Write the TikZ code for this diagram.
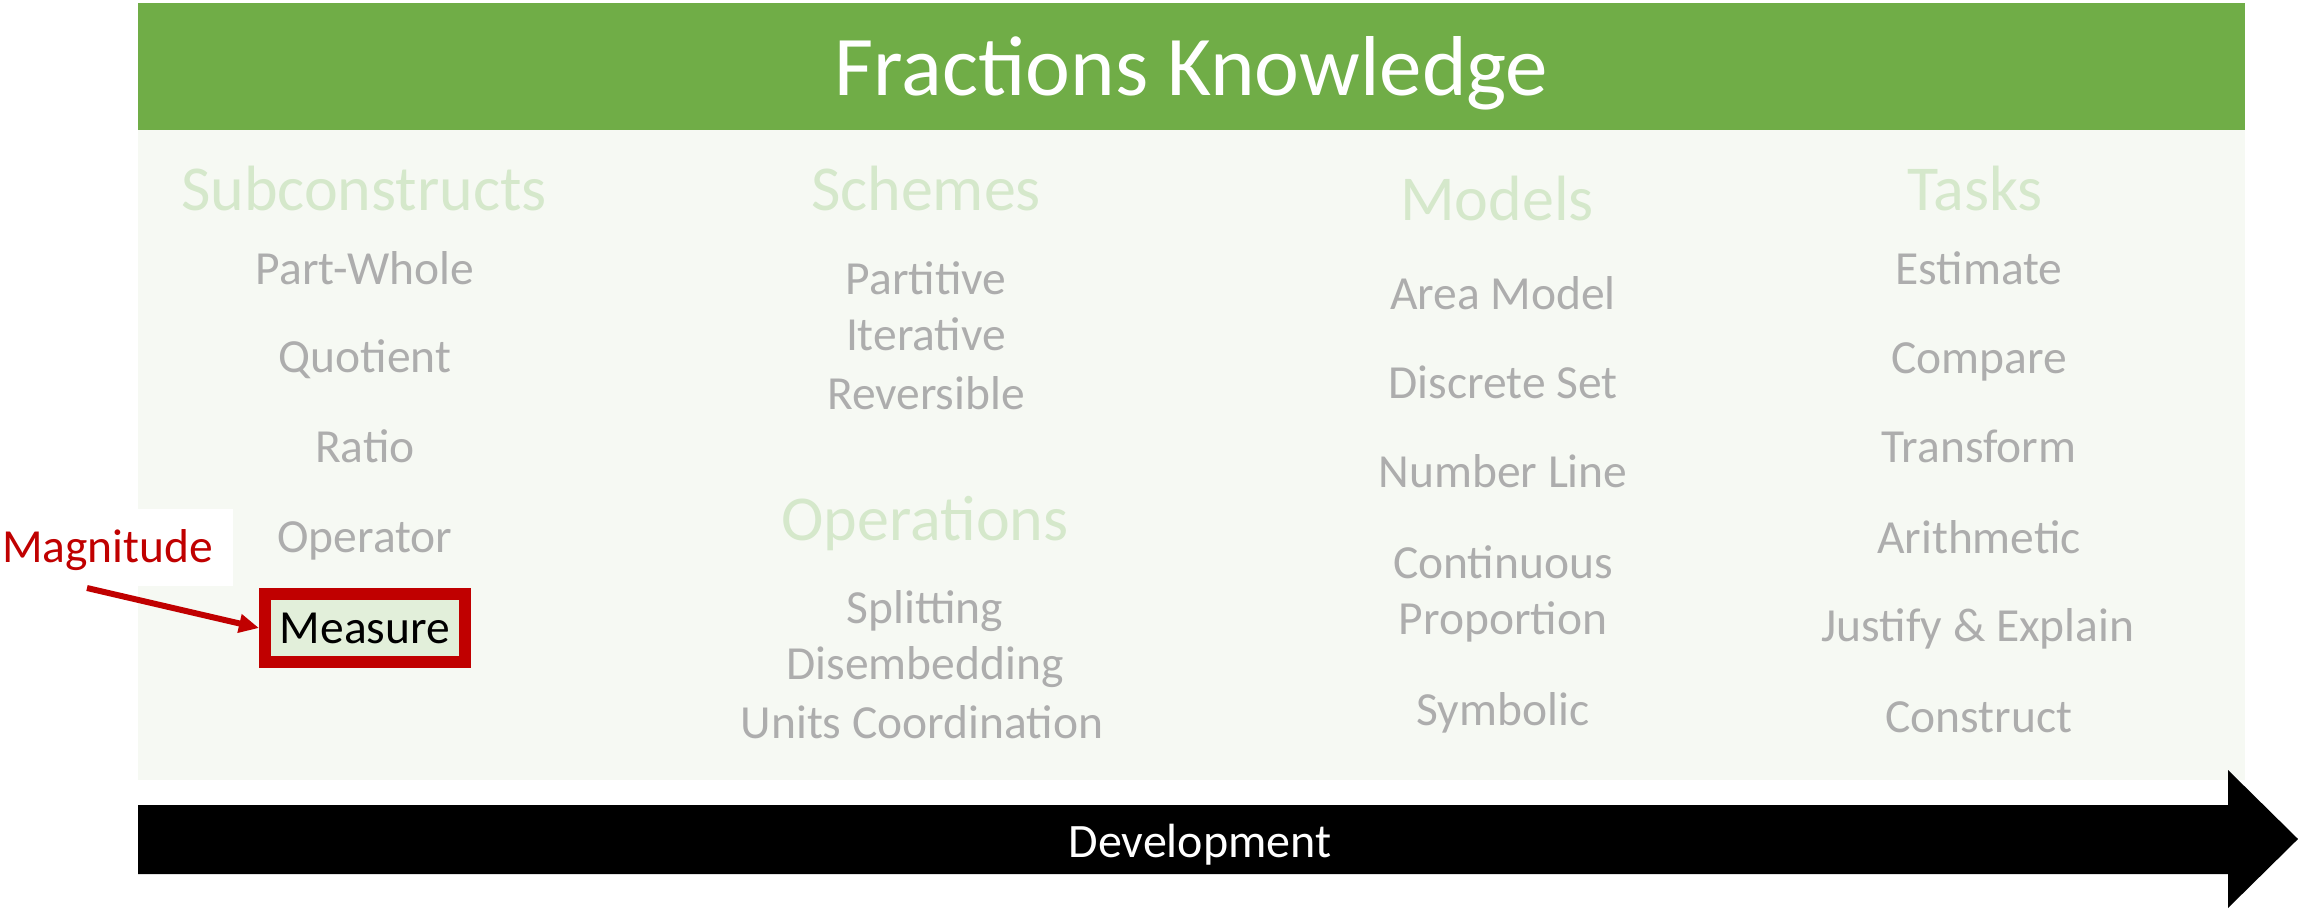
\documentclass[tikz,border=0pt]{standalone}
\usepackage{fontspec}
\setmainfont{Carlito}
\usetikzlibrary{arrows.meta}

\definecolor{bannergreen}{HTML}{70AD47}
\definecolor{panelfill}{HTML}{F6F9F3}
\definecolor{hdrgreen}{HTML}{D5E8CB}
\definecolor{itemgray}{HTML}{ADADAD}
\definecolor{darkred}{HTML}{C00000}
\definecolor{measfill}{HTML}{E2EFDA}

\tikzset{
  itemtext/.style={text=itemgray, font=\fontsize{47.5}{57}\selectfont, anchor=base, inner sep=0pt},
  hdrtext/.style={text=hdrgreen, font=\fontsize{64}{77}\selectfont, anchor=base, inner sep=0pt},
  measbox/.style={draw=darkred, line width=12pt, fill=measfill, text=black,
    font=\fontsize{47.5}{57}\selectfont, minimum width=200pt, minimum height=68pt, inner sep=0pt},
  magbox/.style={fill=white, text=darkred, font=\fontsize{47.5}{57}\selectfont,
    text width=229pt, align=left, inner xsep=2pt, inner ysep=0pt,
    minimum height=77pt, anchor=north west, text depth=4pt},
  magarrow/.style={draw=darkred, line width=6pt, -{Triangle[length=20pt,width=18pt]}},
}

\begin{document}
\begin{tikzpicture}[x=1pt,y=-1pt]
\useasboundingbox (0,0) rectangle (2298,908);

% title banner and light panel
\fill[bannergreen] (138,3) rectangle (2245,130);
\fill[panelfill] (138,130) rectangle (2245,780);
\node[text=white, font=\fontsize{85}{100}\selectfont, anchor=base, inner sep=0pt] (title) at (1191.5,95) {Fractions Knowledge};

% column 1: subconstructs
\node[hdrtext] (sub) at (364,210) {Subconstructs};
\node[itemtext] (pw) at (365,284) {Part-Whole};
\node[itemtext] (quo) at (365,372) {Quotient};
\node[itemtext] (rat) at (365,462) {Ratio};
\node[itemtext] (opr) at (365,552) {Operator};

% column 2: schemes and operations
\node[hdrtext] (sch) at (926,210) {Schemes};
\node[itemtext] (part) at (926,294) {Partitive};
\node[itemtext] (iter) at (926,350) {Iterative};
\node[itemtext] (rev) at (926,409) {Reversible};
\node[hdrtext] (ops) at (925,540) {Operations};
\node[itemtext] (split) at (925,623) {Splitting};
\node[itemtext] (disemb) at (925,679) {Disembedding};
\node[itemtext] (units) at (922,738) {Units Coordination};

% column 3: models
\node[hdrtext] (mod) at (1497,220) {Models};
\node[itemtext] (area) at (1503,309) {Area Model};
\node[itemtext] (disc) at (1503,398) {Discrete Set};
\node[itemtext] (nl) at (1503,487) {Number Line};
\node[itemtext] (cont) at (1503,578) {Continuous};
\node[itemtext] (prop) at (1503,634) {Proportion};
\node[itemtext] (sym) at (1503,725) {Symbolic};

% column 4: tasks
\node[hdrtext] (tasks) at (1975,210) {Tasks};
\node[itemtext] (est) at (1979,284) {Estimate};
\node[itemtext] (comp) at (1979,373) {Compare};
\node[itemtext] (trans) at (1979,462) {Transform};
\node[itemtext] (arith) at (1979,553) {Arithmetic};
\node[itemtext] (just) at (1978,641) {Justify \& Explain};
\node[itemtext] (cons) at (1979,732) {Construct};

% highlighted subconstruct with its label
\node[measbox] (meas) at (365,628) {Measure};
\node[magbox] (mag) at (0,509) {Magnitude};
\coordinate (magtail) at (87,588);
\draw[magarrow] (magtail) -- (meas.west);

% development arrow
\fill[black] (138,805) -- (2228,805) -- (2228,770) -- (2298,839) -- (2228,908)
  -- (2228,874) -- (138,874) -- cycle;
\node[text=white, font=\fontsize{48}{58}\selectfont, anchor=base, inner sep=0pt] (dev) at (1200,857) {Development};
\end{tikzpicture}
\end{document}
